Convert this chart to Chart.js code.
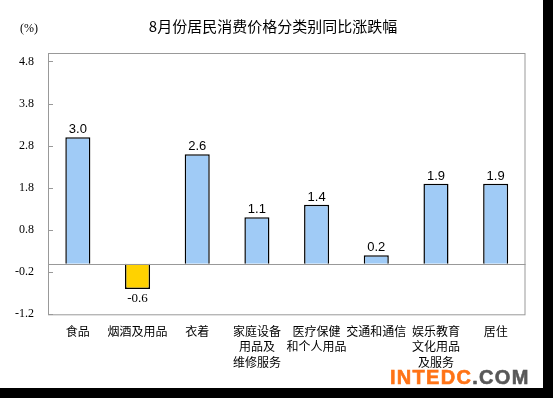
<!DOCTYPE html>
<html>
<head>
<meta charset="utf-8">
<script src="https://cdn.jsdelivr.net/npm/chart.js@4.4.1/dist/chart.umd.min.js"></script>
<style>
  body { margin: 0; background: #000; }
  .frame { position: absolute; left: 0; top: 0; width: 543px; height: 388px; background: #fff; }
  canvas { position: absolute; left: 0; top: 0; }
  .title { position: absolute; left: 0; width: 546px; top: 15px; line-height: 20px; text-align: center;
           font: 15px "Noto Sans CJK SC", sans-serif; color: #000; }
  .unit { position: absolute; left: 20px; top: 21px; line-height: 16px; font: 12px "Liberation Serif", serif; color: #000; }
  .mark { position: absolute; left: 390px; top: 366px; line-height: 20px; font: bold 20px "Liberation Sans", sans-serif;
          letter-spacing: 1.3px; -webkit-text-stroke: 0.6px currentColor; }
  .mark .a { color: #ff7316; }
  .mark .b { color: #585858; }
</style>
</head>
<body>
<div class="frame">
  <canvas id="chart" width="543" height="388"></canvas>
  <div class="title">8月份居民消费价格分类别同比涨跌幅</div>
  <div class="unit">(%)</div>
  <div class="mark"><span class="a">INTEDC</span><span class="b">.COM</span></div>
</div>
<script>
const categories = ['食品', '烟酒及用品', '衣着', ['家庭设备', '用品及', '维修服务'],
    ['医疗保健', '和个人用品'], '交通和通信', ['娱乐教育', '文化用品', '及服务'], '居住'];
const changes = [3.0, -0.6, 2.6, 1.1, 1.4, 0.2, 1.9, 1.9];
const yTicks = [-1.2, -0.2, 0.8, 1.8, 2.8, 3.8, 4.8];

const BLUE = '#a0cbf6';
const YELLOW = '#ffd200';

// Frame box, zero line, inward tick marks and the value labels.
const decorPlugin = {
    id: 'decor',
    afterDatasetsDraw(chart) {
        const ctx = chart.ctx;
        const area = chart.chartArea;
        const y = chart.scales.y;
        ctx.save();
        ctx.strokeStyle = '#999';
        ctx.lineWidth = 1;
        ctx.strokeRect(area.left + 0.5, area.top + 0.5, area.right - area.left - 1, area.bottom - area.top);
        const zeroY = Math.round(y.getPixelForValue(0)) + 0.5;
        ctx.beginPath();
        ctx.moveTo(area.left, zeroY);
        ctx.lineTo(area.right, zeroY);
        yTicks.forEach(t => {
            const ty = Math.round(y.getPixelForValue(t)) + 0.5;
            ctx.moveTo(area.left, ty);
            ctx.lineTo(area.left + 5, ty);
        });
        ctx.stroke();

        ctx.fillStyle = '#000';
        ctx.textAlign = 'center';
        ctx.textBaseline = 'alphabetic';
        chart.getDatasetMeta(0).data.forEach((bar, i) => {
            const v = changes[i];
            if (v >= 0) {
                ctx.font = '13px "Liberation Sans", Arial, sans-serif';
                ctx.fillText(v.toFixed(1), bar.x, bar.y - 4);
            } else {
                ctx.font = '13px "Liberation Serif", serif';
                ctx.fillText(v.toFixed(1), bar.x, bar.y + 12.5);
            }
        });
        ctx.restore();
    }
};

new Chart(document.getElementById('chart'), {
    type: 'bar',
    data: {
        labels: categories,
        datasets: [{
            data: changes,
            backgroundColor: changes.map(v => v < 0 ? YELLOW : BLUE),
            borderColor: '#000',
            borderWidth: 1.5,
            barPercentage: 0.42,
            categoryPercentage: 1
        }]
    },
    options: {
        responsive: false,
        animation: false,
        layout: { padding: { top: 53, right: 17.5, left: 0, bottom: 0 } },
        plugins: { legend: { display: false }, tooltip: { enabled: false } },
        scales: {
            x: {
                grid: { display: false, drawTicks: false },
                border: { display: false },
                ticks: {
                    color: '#000',
                    padding: 9,
                    maxRotation: 0,
                    autoSkip: false,
                    font: { family: '"Noto Sans CJK SC", sans-serif', size: 12, lineHeight: 1.3 }
                },
                afterFit(scale) { scale.height = 73.7; }
            },
            y: {
                min: -1.2,
                max: 5.0,
                grid: { display: false, drawTicks: false },
                border: { display: false },
                afterBuildTicks(scale) { scale.ticks = yTicks.map(v => ({ value: v })); },
                ticks: {
                    color: '#000',
                    padding: 14,
                    font: { family: '"Liberation Serif", serif', size: 12 },
                    callback: v => Number(v).toFixed(1)
                },
                afterFit(scale) { scale.width = 48; }
            }
        }
    },
    plugins: [decorPlugin]
});
</script>
</body>
</html>
